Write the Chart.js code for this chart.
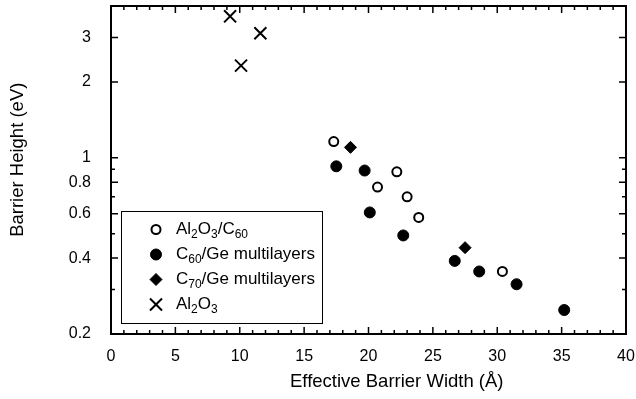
<!DOCTYPE html>
<html>
<head>
<meta charset="utf-8">
<script src="https://cdn.jsdelivr.net/npm/chart.js@4/dist/chart.umd.min.js"></script>
<style>
html, body { margin: 0; padding: 0; background: #fff; }
</style>
</head>
<body>
<canvas id="myChart" width="636" height="399"></canvas>
<script>
// data (x = effective barrier width in A, y = barrier height in eV)
const al2o3C60X = [17.3, 22.2, 20.7, 23.0, 23.9, 30.4]
const al2o3C60Y = [1.16, 0.88, 0.765, 0.70, 0.58, 0.354]

const c60GeX = [17.5, 19.7, 20.1, 22.7, 26.7, 28.6, 31.5, 35.2]
const c60GeY = [0.925, 0.89, 0.607, 0.492, 0.39, 0.354, 0.315, 0.249]

const c70GeX = [18.6, 27.5]
const c70GeY = [1.10, 0.44]

const al2o3X = [9.25, 11.6, 10.1]
const al2o3Y = [3.64, 3.12, 2.32]

const seriesLabels = ['Al_{2}O_{3}/C_{60}', 'C_{60}/Ge multilayers', 'C_{70}/Ge multilayers', 'Al_{2}O_{3}']

const yLabelTicks = [0.2, 0.4, 0.6, 0.8, 1, 2, 3]
const yMinorTicks = [0.3, 0.5, 0.7, 0.9]

const FONT = 'Liberation Sans, Arial, Helvetica, sans-serif'

function toPoints(xs, ys) {
    return xs.map((x, i) => ({ x: x, y: ys[i] }))
}

// draws text like "C_{60}" with real subscripts
function drawRich(ctx, text, x, y, size) {
    const parts = text.split(/(_\{[^}]*\})/)
    let cx = x
    parts.forEach((p) => {
        if (!p) return
        if (p.startsWith('_{')) {
            const s = p.slice(2, -1)
            ctx.font = `${Math.round(size * 0.72)}px ${FONT}`
            ctx.fillText(s, cx, y + size * 0.28)
            cx += ctx.measureText(s).width
        } else {
            ctx.font = `${size}px ${FONT}`
            ctx.fillText(p, cx, y)
            cx += ctx.measureText(p).width
        }
    })
}

const frameTicks = {
    id: 'frameTicks',
    afterDraw(chart) {
        const ctx = chart.ctx
        const a = chart.chartArea
        const xs = chart.scales.x
        const ys = chart.scales.y
        ctx.save()
        ctx.strokeStyle = '#000'
        ctx.lineWidth = 1.5
        ctx.beginPath()
        for (let v = 0; v <= 40; v++) {
            const p = xs.getPixelForValue(v)
            const len = v % 5 === 0 ? 7 : 4
            ctx.moveTo(p, a.bottom); ctx.lineTo(p, a.bottom - len)
            ctx.moveTo(p, a.top); ctx.lineTo(p, a.top + len)
        }
        yLabelTicks.concat(yMinorTicks).forEach((v) => {
            const p = ys.getPixelForValue(v)
            const len = yLabelTicks.includes(v) ? 7 : 4
            ctx.moveTo(a.left, p); ctx.lineTo(a.left + len, p)
            ctx.moveTo(a.right, p); ctx.lineTo(a.right - len, p)
        })
        ctx.stroke()
        ctx.lineWidth = 2
        ctx.strokeRect(a.left, a.top, a.right - a.left, a.bottom - a.top)
        ctx.restore()
    }
}

const boxLegend = {
    id: 'boxLegend',
    afterDraw(chart) {
        const ctx = chart.ctx
        const a = chart.chartArea
        const left = a.left + 10, top = a.top + 205, w = 201, h = 112
        ctx.save()
        ctx.strokeStyle = '#000'
        ctx.lineWidth = 1
        ctx.strokeRect(left + 0.5, top + 0.5, w, h)
        chart.data.datasets.forEach((ds, i) => {
            const cy = top + 18.5 + i * 25
            const cx = left + 35
            ctx.lineWidth = ds.pointBorderWidth
            ctx.strokeStyle = '#000'
            ctx.fillStyle = ds.pointBackgroundColor
            const r = ds.pointRadius
            ctx.beginPath()
            if (ds.pointStyle === 'circle') {
                ctx.arc(cx, cy, r, 0, Math.PI * 2)
                ctx.fill(); ctx.stroke()
            } else if (ds.pointStyle === 'rectRot') {
                ctx.moveTo(cx, cy - r); ctx.lineTo(cx + r, cy); ctx.lineTo(cx, cy + r); ctx.lineTo(cx - r, cy); ctx.closePath()
                ctx.fill(); ctx.stroke()
            } else {
                const d = r * Math.SQRT1_2
                ctx.moveTo(cx - d, cy - d); ctx.lineTo(cx + d, cy + d)
                ctx.moveTo(cx + d, cy - d); ctx.lineTo(cx - d, cy + d)
                ctx.stroke()
            }
            ctx.fillStyle = '#000'
            ctx.textBaseline = 'middle'
            ctx.textAlign = 'left'
            drawRich(ctx, seriesLabels[i], cx + 20, cy, 17)
        })
        ctx.restore()
    }
}

var ctx = document.getElementById('myChart').getContext('2d')
var chart = new Chart(ctx, {
    type: 'scatter',
    data: {
        datasets: [{
            label: 'Al2O3/C60',
            data: toPoints(al2o3C60X, al2o3C60Y),
            pointStyle: 'circle',
            pointRadius: 4.5,
            pointBorderWidth: 2,
            pointBorderColor: '#000',
            pointBackgroundColor: '#fff'
        },
        {
            label: 'C60/Ge multilayers',
            data: toPoints(c60GeX, c60GeY),
            pointStyle: 'circle',
            pointRadius: 5.5,
            pointBorderWidth: 1,
            pointBorderColor: '#000',
            pointBackgroundColor: '#000'
        },
        {
            label: 'C70/Ge multilayers',
            data: toPoints(c70GeX, c70GeY),
            pointStyle: 'rectRot',
            pointRadius: 6,
            pointBorderWidth: 1,
            pointBorderColor: '#000',
            pointBackgroundColor: '#000'
        },
        {
            label: 'Al2O3',
            data: toPoints(al2o3X, al2o3Y),
            pointStyle: 'crossRot',
            pointRadius: 8.5,
            pointBorderWidth: 2,
            pointBorderColor: '#000',
            pointBackgroundColor: '#000'
        }]
    },
    options: {
        responsive: false,
        animation: false,
        devicePixelRatio: 1,
        layout: { autoPadding: false, padding: { top: 6, right: 10, left: 0, bottom: 0 } },
        plugins: {
            legend: { display: false },
            tooltip: { enabled: false }
        },
        scales: {
            x: {
                type: 'linear',
                min: 0,
                max: 40,
                ticks: { stepSize: 5, color: '#000', font: { family: FONT, size: 16 }, padding: 5 },
                grid: { display: false },
                border: { display: false },
                // leading spaces push the centred title to the right, as in the figure
                title: { display: true, text: '           Effective Barrier Width (Å)', color: '#000', font: { family: FONT, size: 18.5 }, padding: { top: 0, bottom: 6 } },
                afterFit: (scale) => {
                    scale.height = 65
                    scale.paddingLeft = 0
                    scale.paddingRight = 0
                }
            },
            y: {
                type: 'logarithmic',
                min: 0.2,
                max: 4,
                afterBuildTicks: (scale) => { scale.ticks = yLabelTicks.map((v) => ({ value: v })) },
                ticks: {
                    color: '#000',
                    font: { family: FONT, size: 16 },
                    padding: 12,
                    callback: (v) => String(v)
                },
                grid: { display: false },
                border: { display: false },
                title: { display: true, text: '    Barrier Height (eV)', color: '#000', font: { family: FONT, size: 18.5 }, padding: { top: 7, bottom: 0 } },
                afterFit: (scale) => {
                    scale.width = 111
                    scale.paddingTop = 0
                    scale.paddingBottom = 0
                }
            }
        }
    },
    plugins: [frameTicks, boxLegend]
})
</script>
</body>
</html>
